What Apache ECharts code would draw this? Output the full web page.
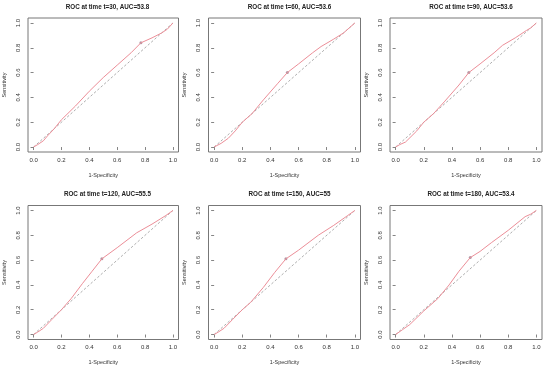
<!DOCTYPE html>
<html><head><meta charset="utf-8">
<script src="https://cdn.jsdelivr.net/npm/echarts@6/dist/echarts.min.js"></script>
<style>html,body{margin:0;padding:0;background:#fff}#c{width:550px;height:368px}</style>
</head><body><div id="c"></div>
<script>
var titles = ["ROC at time t=30, AUC=53.8","ROC at time t=60, AUC=53.6","ROC at time t=90, AUC=53.6",
              "ROC at time t=120, AUC=55.5","ROC at time t=150, AUC=55","ROC at time t=180, AUC=53.4"];
var tickVals = [0, 0.2, 0.4, 0.6, 0.8, 1.0];
var tickLabels = ["0.0","0.2","0.4","0.6","0.8","1.0"];
var xName = "1-Specificity";
var yName = "Sensitivity";

var fpr30 = [0,0.03,0.07,0.10,0.15,0.20,0.30,0.40,0.50,0.60,0.70,0.77,0.85,0.92,0.96,1];
var tpr30 = [0,0.02,0.05,0.09,0.15,0.22,0.33,0.45,0.56,0.66,0.76,0.84,0.88,0.92,0.95,1];
var fpr60 = [0,0.05,0.10,0.15,0.20,0.27,0.35,0.45,0.52,0.60,0.70,0.76,0.85,0.92,0.96,1];
var tpr60 = [0,0.03,0.07,0.13,0.20,0.27,0.38,0.51,0.60,0.67,0.76,0.81,0.87,0.92,0.96,1];
var fpr90 = [0,0.03,0.07,0.15,0.20,0.27,0.35,0.45,0.52,0.60,0.70,0.76,0.85,0.93,0.96,1];
var tpr90 = [0,0.02,0.04,0.13,0.20,0.27,0.37,0.50,0.60,0.67,0.76,0.82,0.88,0.94,0.96,1];
var fpr120 = [0,0.03,0.07,0.13,0.20,0.27,0.35,0.42,0.49,0.60,0.74,0.85,0.95,1];
var tpr120 = [0,0.02,0.05,0.12,0.20,0.29,0.41,0.51,0.61,0.70,0.82,0.89,0.96,1];
var fpr150 = [0,0.03,0.07,0.13,0.20,0.26,0.35,0.43,0.51,0.60,0.74,0.85,0.95,1];
var tpr150 = [0,0.02,0.05,0.12,0.20,0.26,0.38,0.50,0.61,0.68,0.80,0.88,0.96,1];
var fpr180 = [0,0.05,0.10,0.20,0.30,0.38,0.45,0.53,0.60,0.68,0.80,0.92,0.96,1];
var tpr180 = [0,0.04,0.08,0.19,0.29,0.40,0.51,0.62,0.67,0.74,0.84,0.95,0.97,1];
var cutX = [0.77,0.52,0.52,0.49,0.51,0.53];
var cutY = [0.84,0.60,0.60,0.61,0.61,0.62];

var fprs = [fpr30,fpr60,fpr90,fpr120,fpr150,fpr180];
var tprs = [tpr30,tpr60,tpr90,tpr120,tpr150,tpr180];

var lefts = [26.5, 208.5, 390];
var tops = [18, 205.5];
var W = 152, H = 134;
var font = "'Liberation Sans', Arial, sans-serif";

var grids=[], xAxes=[], yAxes=[], series=[], titleArr=[];
for (var i=0;i<6;i++){
  var col=i%3, row=Math.floor(i/3);
  grids.push({left:lefts[col], top:tops[row], width:W, height:H, show:true, borderColor:'#777', borderWidth:1, backgroundColor:'transparent'});
  titleArr.push({text:titles[i], left:lefts[col]+W/2, top:tops[row]-19, textAlign:'center',
    textStyle:{fontFamily:font, fontSize:6.3, fontWeight:'bold', color:'#222'}});
  var axCommon = {min:-0.04, max:1.04, splitLine:{show:false}, axisLine:{show:false},
    axisTick:{show:true, length:3, customValues:tickVals, lineStyle:{color:'#666', width:0.8}},
    nameLocation:'middle', nameTextStyle:{fontFamily:font, fontSize:5.5, color:'#333'}};
  xAxes.push(Object.assign({}, axCommon, {type:'value', gridIndex:i, name:xName, nameGap:20,
    axisLabel:{customValues:tickVals, margin:5, fontFamily:font, fontSize:6, color:'#333',
      formatter:function(v){return tickLabels[tickVals.indexOf(Math.round(v*10)/10)];}}}));
  yAxes.push(Object.assign({}, axCommon, {type:'value', gridIndex:i, name:yName, nameGap:21,
    axisLabel:{customValues:tickVals, margin:7, rotate:90, fontFamily:font, fontSize:6, color:'#333',
      formatter:function(v){return tickLabels[tickVals.indexOf(Math.round(v*10)/10)];}}}));
  var d=[]; for (var k=0;k<fprs[i].length;k++) d.push([fprs[i][k], tprs[i][k]]);
  series.push({type:'line', xAxisIndex:i, yAxisIndex:i, data:[[0,0],[1,1]], showSymbol:false, silent:true,
    lineStyle:{color:'#777', width:0.6, type:[2.5,2]}});
  series.push({type:'line', xAxisIndex:i, yAxisIndex:i, data:d, showSymbol:false, silent:true,
    lineStyle:{color:'#ec8e98', width:1}});
  series.push({type:'scatter', xAxisIndex:i, yAxisIndex:i, data:[[cutX[i],cutY[i]]], symbol:'circle', symbolSize:3,
    itemStyle:{color:'#a08090'}});
}
var chart = echarts.init(document.getElementById('c'), null, {renderer:'canvas'});
chart.setOption({animation:false, backgroundColor:'#fff', title:titleArr, grid:grids, xAxis:xAxes, yAxis:yAxes, series:series});
</script></body></html>
